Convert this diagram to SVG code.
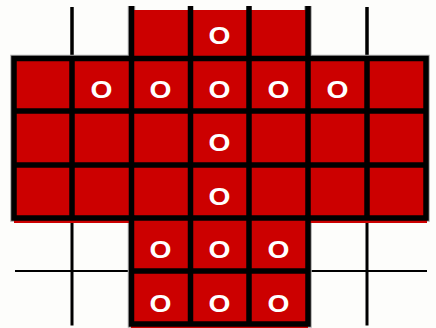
<svg xmlns="http://www.w3.org/2000/svg" width="436" height="328" viewBox="0 0 436 328">
<style>
.thick{fill:none;stroke:#000;stroke-width:5.5;stroke-linecap:butt}
.thin{fill:none;stroke:#000;stroke-linecap:butt}
.bevel{fill:none;stroke:#a8a8a8;stroke-width:7.5;stroke-linejoin:miter}
.red{fill:#cc0000}
.peg{fill:#fff;font-family:"Liberation Sans",Arial,sans-serif;font-weight:bold;font-size:24.5px;text-anchor:middle}
</style>
<rect x="0" y="0" width="436" height="328" fill="#fdfdfb"/>
<g id="thin-grid">
<path class="thin" stroke-width="3.5" d="M72,7V58.5M367,7V58.5"/>
<path class="thin" stroke-width="3" d="M72,218V325.5M367,218V325.5"/>
<path class="thin" stroke-width="2" d="M15,271H131.5M308,271H427"/>
</g>
<g id="board-outline-shade">
<path class="bevel" d="M131.5,6V58.5H14V218H131.5V324H308V218H426V58.5H308V6"/>
</g>
<g id="board-fill">
<rect class="red" x="131" y="10" width="177" height="318"/>
<rect class="red" x="14" y="60.5" width="413" height="162.5"/>
</g>
<g id="board-lines">
<path class="thick" d="M131.5,6V58.5H14V218H131.5V324H308V218H426V58.5H308V6"/>
<path class="thick" d="M72,58.5V218M131.5,58.5V218M190.5,6V324M249,6V324M308,58.5V218M367,58.5V218"/>
<path class="thick" d="M14,111H426M14,165H426M131.5,58.5H308M131.5,218H308M131.5,271H308"/>
</g>
<g id="pegs">
<text class="peg" transform="translate(219.5,44) scale(1.15,1)">O</text>
<text class="peg" transform="translate(101.5,97.5) scale(1.15,1)">O</text>
<text class="peg" transform="translate(160.5,97.5) scale(1.15,1)">O</text>
<text class="peg" transform="translate(219.5,97.5) scale(1.15,1)">O</text>
<text class="peg" transform="translate(278.5,97.5) scale(1.15,1)">O</text>
<text class="peg" transform="translate(337.5,97.5) scale(1.15,1)">O</text>
<text class="peg" transform="translate(219.5,151) scale(1.15,1)">O</text>
<text class="peg" transform="translate(219.5,204.5) scale(1.15,1)">O</text>
<text class="peg" transform="translate(160.5,258) scale(1.15,1)">O</text>
<text class="peg" transform="translate(219.5,258) scale(1.15,1)">O</text>
<text class="peg" transform="translate(278.5,258) scale(1.15,1)">O</text>
<text class="peg" transform="translate(160.5,311.5) scale(1.15,1)">O</text>
<text class="peg" transform="translate(219.5,311.5) scale(1.15,1)">O</text>
<text class="peg" transform="translate(278.5,311.5) scale(1.15,1)">O</text>
</g>
</svg>
